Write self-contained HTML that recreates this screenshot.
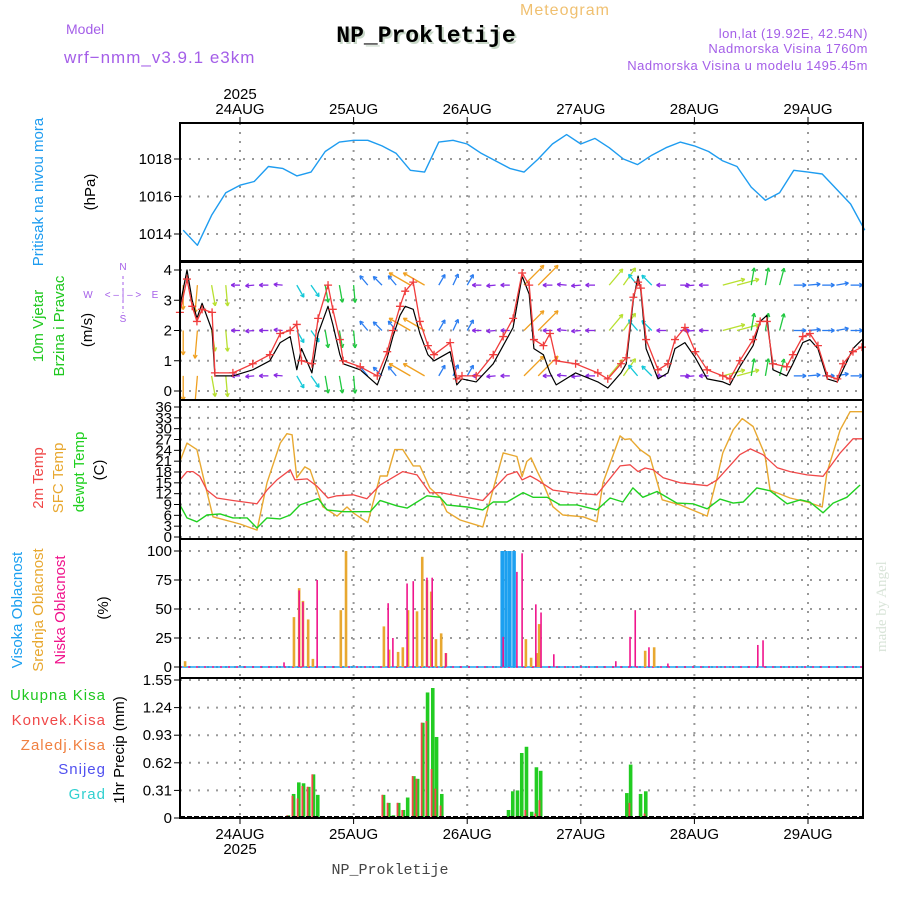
<!DOCTYPE html>
<html><head><meta charset="utf-8"><style>
html,body{margin:0;padding:0;background:#fff;}
svg text{font-family:"Liberation Sans",sans-serif;}
</style></head><body>
<svg id="chart" width="900" height="900" viewBox="0 0 900 900" xmlns="http://www.w3.org/2000/svg">
<rect x="0" y="0" width="900" height="900" fill="#fff"/>
<text x="66" y="34" font-size="14" fill="#a45ee8">Model</text>
<text x="64" y="63" font-size="17" fill="#a45ee8" letter-spacing="1">wrf−nmm_v3.9.1 e3km</text>
<text x="520" y="15" font-size="16" fill="#f0c070" letter-spacing="1">Meteogram</text>
<text x="428" y="44" font-size="23" font-weight="bold" fill="#c8d8c8" text-anchor="middle" style="font-family:'Liberation Mono',monospace">NP_Prokletije</text>
<text x="426" y="42" font-size="23" font-weight="bold" fill="#000" text-anchor="middle" style="font-family:'Liberation Mono',monospace">NP_Prokletije</text>
<text x="868" y="38" font-size="13" fill="#a45ee8" text-anchor="end" letter-spacing="0.5">lon,lat (19.92E, 42.54N)</text>
<text x="868" y="53" font-size="13" fill="#a45ee8" text-anchor="end" letter-spacing="0.5">Nadmorska Visina 1760m</text>
<text x="868" y="70" font-size="13" fill="#a45ee8" text-anchor="end" letter-spacing="0.5">Nadmorska Visina u modelu 1495.45m</text>
<text x="390" y="874" font-size="15" fill="#444" text-anchor="middle" style="font-family:'Liberation Mono',monospace">NP_Prokletije</text>
<text transform="translate(886,652) rotate(-90)" font-size="15" fill="#d8e4d8" style="font-family:'Liberation Serif',serif">made by Angel</text>
<g id="plots"></g>
</svg>
<script>
// ---------------- DATA ----------------
const dayLabels = ["24AUG","25AUG","26AUG","27AUG","28AUG","29AUG"];
const dayHours = [0,24,48,72,96,120];
const pressHours = [-12,-9,-6,-3,0,3,6,9,12,15,18,21,24,27,30,33,36,39,42,45,48,51,54,57,60,63,66,69,72,75,78,81,84,87,90,93,96,99,102,105,108,111,114,117,120,123,126,129,132];
const pressValues = [1014.2,1013.4,1015.0,1016.2,1016.6,1016.8,1017.6,1017.5,1017.1,1017.3,1018.4,1018.9,1019.0,1019.0,1018.7,1018.3,1017.4,1017.3,1018.9,1019.0,1018.8,1018.3,1017.9,1017.5,1017.3,1018.0,1018.8,1019.3,1018.8,1019.1,1018.6,1018.0,1017.7,1018.2,1018.6,1018.9,1018.7,1018.4,1017.9,1017.6,1016.5,1015.8,1016.2,1017.4,1017.3,1017.2,1016.4,1015.6,1014.2];
const pressTicks = [1014,1016,1018];

const gustHours = [-12.7,-11.2,-10.1,-9.1,-8,-5.9,-5.3,-1.5,2.7,6.3,8.5,10.6,12,13,15.2,16.5,18.6,19.6,21.1,21.8,25.4,29,31.1,32.3,33.8,34.9,36.6,38,39.7,41,44.4,45.8,46.9,49.9,53.5,55.6,57.7,59.6,61.1,62.1,64.1,65.5,66.8,70.9,75.6,77.7,80.5,81.6,83.1,84.1,84.7,85.8,88.3,90.4,91.9,94,96.2,98.7,102,103.5,105.6,108.4,109.9,111.3,112.6,115.5,116.8,118.9,120.4,122.1,124.1,126.2,127.4,129.5,131.4];
const gustValues = [2.6,3.7,2.8,2.3,2.7,2.6,0.6,0.6,0.9,1.2,1.9,2.0,2.2,1.0,0.9,2.4,3.5,2.7,1.7,1.0,0.8,0.5,1.3,2.0,2.8,3.3,3.6,2.3,1.5,1.2,1.6,0.4,0.5,0.5,1.2,1.8,2.4,3.9,3.5,1.7,1.5,1.9,1.0,0.9,0.6,0.4,0.9,1.1,3.1,3.6,3.4,1.7,0.7,0.9,1.7,2.1,1.3,0.7,0.5,0.4,1.0,1.7,2.3,2.3,0.9,0.8,1.2,1.8,1.9,1.5,0.5,0.4,0.9,1.3,1.45];
const speedValues = [2.8,4.0,3.0,2.4,2.9,2.0,0.5,0.5,0.7,1.0,1.6,1.8,0.7,1.4,0.6,1.9,2.8,2.2,1.2,0.9,0.7,0.2,1.1,1.8,2.5,2.8,2.7,1.9,1.2,1.0,1.3,0.2,0.4,0.3,0.9,1.5,2.1,3.8,3.2,1.4,1.2,0.6,0.2,0.6,0.3,0.1,0.6,0.9,3.0,3.8,3.3,1.4,0.4,0.6,1.4,1.6,1.1,0.4,0.3,0.2,0.8,1.5,2.3,2.5,0.7,0.5,0.9,1.6,1.7,1.4,0.4,0.3,0.7,1.4,1.7];
const windTicks = [0,1,2,3,4];
const arrowHours = pressHours;
const arrowDir = [270,265,280,275,180,185,180,175,300,305,280,280,275,130,135,130,150,150,60,65,60,180,185,180,45,45,180,175,185,180,50,55,130,135,180,0,185,180,15,15,80,80,75,0,5,0,10,0,5];
const arrowSpd = [5,6,4,4,0.5,0.5,0.6,0.5,2,2,3,3,3,1.5,1.5,1.5,5,5,1.5,1.5,1.5,0.6,0.6,0.6,6,6,0.7,0.7,0.7,0.7,4,4,2,2,0.7,0.7,0.7,0.7,4.5,4.5,3,3,3,1.5,1.5,1.5,1.5,1.5,1.5];
const arrowRows = [0.5,2.0,3.5];

const t2Hours = [-12.7,-11.2,-9.9,-8.5,-7,-4.9,-1.5,3.6,5.7,7.8,10.6,11.6,14.2,16.3,18.6,20.5,23.9,26.8,29.6,34.4,37.4,40.1,42.3,51.3,56.4,58.5,59.6,61.3,62.8,66.1,70.4,75.4,80.3,82.4,84.1,85.6,87.3,89.4,93,98.7,100.8,105.6,107.8,110.5,113.5,116.2,119.8,123.2,126.8,129.5,131.4];
const t2Values = [15.8,18.1,18.1,16.8,13,10.8,10.1,9.2,13,15.8,18.6,15.8,16.1,14,10.8,11.4,11.7,10.6,14.4,18.1,17.2,12.2,12.3,10.1,17.2,18.1,15.8,16.9,15.8,13,12.2,11.7,19.7,20,18.1,19.1,18.6,16.4,15,14.2,15.8,22.8,24.4,22.8,19.2,18.1,17.2,16.8,23.3,27.2,27.2];
const sfcHours = [-12.7,-11.2,-9.1,-7.8,-5.7,0,3.6,5.7,8.5,9.9,11,12,13.7,14.8,17.5,20.5,22.6,23.9,27,29.6,31.1,32.7,34.4,36.6,38,40.1,42.3,43.7,46.5,51.3,55.6,58.5,59.6,60.6,61.5,62.8,64,66.1,68.2,72.5,75.4,76.7,80.3,81.3,82.4,84.5,86.6,89.2,93,98.7,100.8,102,104.2,106.1,108.4,110.9,112,116.2,119.8,123,124,126.8,128.9,131.4];
const sfcValues = [20.9,26,24.2,16.8,5.6,3.6,1.9,15,26,28.6,28.3,16.4,19.4,18.6,8.4,5.8,8.3,6.7,4,16.9,16.9,24.2,24.2,19.7,19.7,13.6,11,7,4.7,2.8,23.3,22.3,16.7,20.9,21.9,18.1,15,8.4,6.1,5.6,4.2,15,28,27,27.2,24.2,22.3,10.3,8.9,5.8,16.4,23.3,29.7,32.8,30.6,22.8,13,10.8,9.7,8.3,17.8,29.7,34.7,34.7];
const dewHours = [-12.7,-11.2,-9.1,-7,-4.2,-1.5,1.5,3.6,5.7,8.5,10.6,12.7,16.5,18.4,21.8,27.5,29.6,33.2,35.3,39.5,42.3,43.7,48,51.3,53.5,56.4,59.8,61.9,64.9,67.6,71.2,75.4,78.2,80.9,83,85.1,88.1,92.3,95.7,98.7,101.4,104.2,106.3,109.2,112,115.6,118.4,120.4,123.2,125.3,128.2,131];
const dewValues = [8.9,5.3,4.2,6.1,6.4,5.3,5.3,2.5,5.3,5,6.1,8.9,10.6,7.5,7,7,10.1,8.6,8,11.4,11,8.9,8.3,7.5,9.7,9.7,12.3,11,11,8.9,8.9,7.5,10.8,9.7,13.6,11,12.6,9.4,9.2,7.8,10.5,9.4,9.7,13.6,12.8,9.2,10.3,9.7,6.7,9.4,11,14.4];
const tempTicks = [0,3,6,9,12,15,18,21,24,27,30,33,36];

const midHours = [-11.6,11.4,12.5,13.3,14.4,15.4,21.3,22.4,30.4,31.5,33.4,34.4,35.5,37.4,38.5,39.5,40.4,41.4,42.5,43.5,60.4,61.5,62.8,63.2,85.6,87.5];
const midValues = [5,43,68,57,41,7,49,100,35,15,13,17,49,48,95,75,65,24,29,12,24,8,12,37,14,17];
const lowHours = [9.3,12.5,13.3,16.3,31.3,32.3,35.3,36.6,39.5,40.6,43.5,55.6,58.5,59.6,62.5,63.6,66.3,79.4,82.4,83.5,86.4,90.4,109.4,110.5];
const lowValues = [4,66,56,75,55,25,72,74,77,77,12,26,82,98,54,47,11,5,26,49,17,3,19,23];
const highHours = [55.4,56.2,57.0,57.9];
const highValues = [100,100,100,100];
const cloudTicks = [0,25,50,75,100];

const precipHours = [10.1,11.2,12.3,13.3,14.4,15.4,16.3,29.4,30.2,31.3,32.3,33.4,34.4,35.3,36.6,37.4,38.5,39.5,40.6,41.4,42.5,56.6,57.5,58.5,59.4,60.4,61.5,62.5,63.4,81.6,82.4,83.5,84.5,85.6,87.5];
const precipTotal = [0.03,0.27,0.40,0.39,0.35,0.49,0.26,0.01,0.26,0.17,0.03,0.17,0.09,0.23,0.47,0.44,1.07,1.41,1.46,0.91,0.27,0.09,0.30,0.31,0.73,0.80,0.07,0.57,0.53,0.28,0.60,0.01,0.27,0.30,0.01];
const precipConv = [0.03,0.25,0.22,0.36,0.35,0.49,0,0.01,0.26,0.17,0,0.17,0.09,0,0.47,0.44,1.07,1.09,0.55,0.33,0.14,0,0,0.02,0.02,0.09,0,0.05,0.2,0,0.17,0,0,0.05,0.01];
const precipTicks = [0,0.31,0.62,0.93,1.24,1.55];

// ---------------- LAYOUT ----------------
const NS = "http://www.w3.org/2000/svg";
const root = document.getElementById('plots');
const X0 = 180, X1 = 863;
const xs = h => 240 + h * 113.6 / 24;
function lin(d0, d1, r0, r1) { return v => r0 + (v - d0) * (r1 - r0) / (d1 - d0); }
const yP = lin(1014, 1018, 234, 159);
const yW = lin(0, 4, 391, 270);
const yT = lin(0, 36, 537, 407);
const yC = lin(0, 100, 667, 551);
const yR = lin(0, 1.55, 818, 680);
function mk(tag, attrs, parent) {
  const e = document.createElementNS(NS, tag);
  for (const k in attrs) e.setAttribute(k, attrs[k]);
  (parent || root).appendChild(e);
  return e;
}
function txt(s, x, y, size, fill, anchor, parent) {
  const t = mk('text', {x: x, y: y, 'font-size': size, fill: fill, 'text-anchor': anchor || 'start'}, parent);
  t.textContent = s;
  return t;
}
function vtxt(s, cx, cy, size, fill) {
  const t = mk('text', {transform: 'translate(' + cx + ',' + cy + ') rotate(-90)', 'font-size': size, fill: fill, 'text-anchor': 'middle'});
  t.textContent = s;
  return t;
}
function panel(name, top, bot, ticks, yf, fmt) {
  const g = mk('g', {});
  
  
  ticks.forEach(v => {
    const y = yf(v);
    const gl = mk('line', {x1: X0, x2: X1, y1: y, y2: y, stroke: '#999', 'stroke-width': 2, 'stroke-dasharray': '2,7'}, g);
    
    
    mk('line', {x1: X0 - 6, x2: X0, y1: y, y2: y, stroke: '#000', 'stroke-width': 1}, g);
    const t = txt(fmt ? fmt(v) : String(v), X0 - 8, y + 5, 15, '#000', 'end', g);
    
    
  });
  dayHours.forEach(h => {
    const x = xs(h);
    mk('line', {x1: x, x2: x, y1: top, y2: bot, stroke: '#999', 'stroke-width': 2, 'stroke-dasharray': '2,7'}, g);
  });
  return g;
}
function frame(name, top, bot) {
  const r = mk('rect', {x: X0, y: top, width: X1 - X0, height: bot - top, fill: 'none', stroke: '#000', 'stroke-width': 2});
  
  
}
function line(hours, vals, yf, color, name, w) {
  const d = hours.map((h, i) => (i ? 'L' : 'M') + xs(h).toFixed(1) + ',' + yf(vals[i]).toFixed(1)).join('');
  const p = mk('path', {d: d, fill: 'none', stroke: color, 'stroke-width': w || 1.3, 'stroke-linejoin': 'round'});
  
  
  return p;
}

// ---------------- PRESSURE ----------------
panel('pressure', 123, 261, pressTicks, yP);
line(pressHours, pressValues, yP, '#1e9cf0', 'pressure-line', 1.4);
frame('pressure', 123, 261);

// ---------------- WIND ----------------
panel('wind', 262, 400, windTicks, yW);
const cp = mk('clipPath', {id: 'wclip'});
mk('rect', {x: X0, y: 262, width: X1 - X0, height: 138}, cp);
const arrowG = mk('g', {'clip-path': 'url(#wclip)'});


function spdColor(s) {
  if (s < 1) return '#8a2be2';
  if (s < 1.8) return '#2a7cf0';
  if (s < 2.5) return '#14c8d8';
  if (s < 3.5) return '#20c840';
  if (s < 4.8) return '#b8e030';
  return '#f0a020';
}
arrowRows.forEach(rowV => {
  arrowHours.forEach((h, i) => {
    const x = xs(h), y = yW(rowV);
    const len = 7 + arrowSpd[i] * 3.5;
    const a = arrowDir[i] * Math.PI / 180;
    const x2 = x + Math.cos(a) * len, y2 = y - Math.sin(a) * len;
    const col = spdColor(arrowSpd[i]);
    const ar = mk('g', {}, arrowG);
    
    
    mk('line', {x1: x, y1: y, x2: x2, y2: y2, stroke: col, 'stroke-width': 1.3}, ar);
    const hl = 4;
    [0.5, -0.5].forEach(o => {
      mk('line', {x1: x2, y1: y2, x2: x2 - Math.cos(a + o) * hl, y2: y2 + Math.sin(a + o) * hl, stroke: col, 'stroke-width': 1.3}, ar);
    });
  });
});
const sp = line(gustHours, speedValues, yW, '#000', 'wind-speed-line', 1.2);
sp.setAttribute('clip-path', 'url(#wclip)');
const gp = line(gustHours, gustValues, yW, '#f03c3c', 'wind-gust-line', 1.3);
gp.setAttribute('clip-path', 'url(#wclip)');
gustHours.forEach((h, i) => {
  const x = xs(h), y = yW(gustValues[i]);
  const m = mk('path', {d: 'M' + (x - 4) + ',' + y + 'h8M' + x + ',' + (y - 4) + 'v8', stroke: '#f03c3c', 'stroke-width': 1.3});
  
  
});
frame('wind', 262, 400);

// ---------------- TEMPERATURE ----------------
panel('temperature', 400, 539, tempTicks, yT);
line(sfcHours, sfcValues, yT, '#e8a830', 'sfc-temp-line', 1.4);
line(t2Hours, t2Values, yT, '#f04848', 'temp-2m-line', 1.3);
line(dewHours, dewValues, yT, '#20d020', 'dewpoint-line', 1.4);
frame('temperature', 400, 539);

// ---------------- CLOUDS ----------------
panel('cloud', 539, 678, cloudTicks, yC);
mk('line', {x1: X0, x2: X1, y1: yC(0), y2: yC(0), stroke: '#1ca0f0', 'stroke-width': 1.5});
mk('line', {x1: X0, x2: X1, y1: yC(0), y2: yC(0), stroke: '#f0148c', 'stroke-width': 1.5, 'stroke-dasharray': '2,6'});
function bars(hours, vals, yf, color, w, off, name) {
  hours.forEach((h, i) => {
    const x = xs(h) + off, y = yf(vals[i]), y0 = yf(0);
    const r = mk('rect', {x: x - w / 2, y: Math.min(y, y0), width: w, height: Math.abs(y0 - y), fill: color});
    
    
  });
}
bars(highHours, highValues, yC, '#1ca0f0', 3.6, 0, 'high-cloud-bar');
bars(midHours, midValues, yC, '#e8a830', 2.6, 0, 'mid-cloud-bar');
bars(lowHours, lowValues, yC, '#f0148c', 1.6, 0, 'low-cloud-bar');
frame('cloud', 539, 678);

// ---------------- PRECIP ----------------
panel('precip', 678, 818, precipTicks, yR, v => String(v));
bars(precipHours, precipTotal, yR, '#22cc22', 3.6, 0.6, 'total-precip-bar');
bars(precipHours, precipConv, yR, '#f04848', 1.8, -0.6, 'convective-precip-bar');
mk('line', {x1: X0, x2: X1, y1: 817, y2: 817, stroke: '#000', 'stroke-width': 2, 'stroke-dasharray': '5,2'});
frame('precip', 678, 818);

// ---------------- TIME AXES ----------------
dayHours.forEach((h, i) => {
  const x = xs(h);
  mk('line', {x1: x, x2: x, y1: 117, y2: 123, stroke: '#000'});
  const t = txt(dayLabels[i], x, 114, 15, '#000', 'middle');
  
  
  mk('line', {x1: x, x2: x, y1: 818, y2: 824, stroke: '#000'});
  const b = txt(dayLabels[i], x, 839, 15, '#000', 'middle');
  
  
});
const y1 = txt('2025', xs(0), 99, 15, '#000', 'middle');


const y2 = txt('2025', xs(0), 854, 15, '#000', 'middle');



// ---------------- AXIS TITLES ----------------
let e;
e = vtxt('Pritisak na nivou mora', 43, 192, 15, '#1e9cf0');
 
e = vtxt('(hPa)', 95, 192, 15, '#000');
 
e = vtxt('10m Vjetar', 43, 326, 15, '#20c820');
 
e = vtxt('Brzina i Pravac', 64, 326, 15, '#20c820');
 
e = vtxt('(m/s)', 92, 330, 15, '#000');
 
const comp = mk('g', {});


txt('N', 123, 270, 10, '#a45ee8', 'middle', comp);
txt('S', 123, 322, 10, '#a45ee8', 'middle', comp);
txt('W', 88, 298, 10, '#a45ee8', 'middle', comp);
txt('E', 155, 298, 10, '#a45ee8', 'middle', comp);
txt('< – | – >', 123, 298, 10, '#a45ee8', 'middle', comp);
mk('line', {x1: 123, x2: 123, y1: 276, y2: 313, stroke: '#a45ee8', 'stroke-dasharray': '3,3'}, comp);
e = vtxt('2m Temp', 43, 478, 15, '#f04848');
 
e = vtxt('SFC Temp', 63, 478, 15, '#e8a830');
 
e = vtxt('dewpt Temp', 84, 472, 15, '#20d020');
 
e = vtxt('(C)', 104, 470, 15, '#000');
 
e = vtxt('Visoka Oblacnost', 22, 610, 15, '#1ca0f0');
 
e = vtxt('Srednja Oblacnost', 43, 610, 15, '#e8a830');
 
e = vtxt('Niska Oblacnost', 65, 610, 15, '#f0148c');
 
e = vtxt('(%)', 108, 608, 15, '#000');
 
e = vtxt('1hr Precip (mm)', 124, 750, 15, '#000');
 
const legend = [['Ukupna  Kisa', '#20c820', 700], ['Konvek.Kisa', '#f04848', 725], ['Zaledj.Kisa', '#f08040', 750], ['Snijeg', '#5050f0', 774], ['Grad', '#30d0d0', 799]];
legend.forEach(l => {
  const t = txt(l[0], 106, l[2], 15, l[1], 'end');
  t.setAttribute('xml:space', 'preserve');
  t.setAttribute('letter-spacing', '1');
  
  
});
</script>
</body></html>
